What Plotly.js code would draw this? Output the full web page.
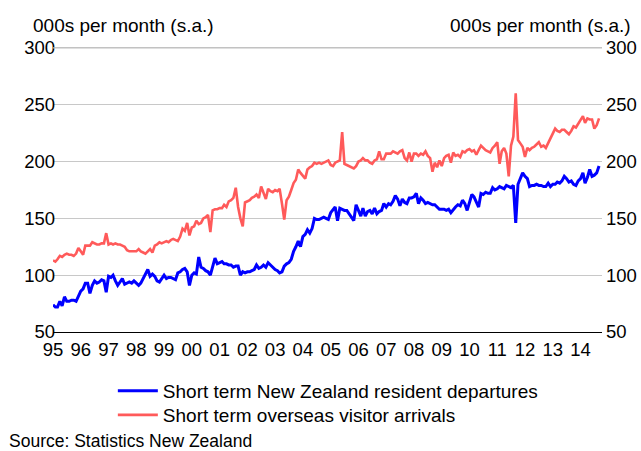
<!DOCTYPE html>
<html>
<head>
<meta charset="utf-8">
<script src="https://cdn.plot.ly/plotly-3.0.1.min.js"></script>
<style>
  html, body { margin: 0; padding: 0; background: #fff; }
  #chart { width: 641px; height: 451px; }
</style>
</head>
<body>
<div id="chart"></div>
<script>
// Monthly, seasonally adjusted, thousands; Jan 1995 .. Sep 2014
const startYear = 1995;
const departures = [
  74, 72, 72, 77, 73, 81, 77, 77, 78, 78, 77, 81,          // 1995
  86, 88, 93, 93, 84, 91, 95, 93, 94, 96, 95, 85,          // 1996
  99, 98, 100, 95, 91, 94, 97, 92, 93, 94, 93, 95,         // 1997
  93, 91, 93, 97, 101, 105, 99, 101, 99, 95, 94, 97,       // 1998
  100, 97, 98, 98, 97, 96, 102, 103, 105, 106, 103, 91,    // 1999
  100, 102, 101, 116, 107, 106, 104, 103, 100, 108, 115, 110, // 2000
  111, 112, 110, 110, 109, 109, 107, 108, 108, 100, 103, 102, // 2001
  103, 103, 104, 105, 109, 106, 107, 109, 107, 111, 109, 107, // 2002
  105, 104, 102, 103, 108, 110, 111, 114, 121, 125, 130, 125, // 2003
  134, 136, 140, 137, 141, 150, 149, 149, 150, 151, 150, 149, // 2004
  155, 158, 160, 148, 159, 158, 157, 157, 154, 151, 148, 162, // 2005
  156, 152, 159, 152, 156, 157, 154, 159, 154, 156, 157, 163, // 2006
  160, 163, 162, 165, 170, 167, 161, 167, 164, 163, 168, 168, // 2007
  169, 172, 163, 168, 166, 163, 164, 163, 162, 162, 160, 158, // 2008
  158, 158, 157, 158, 155, 158, 160, 162, 161, 166, 163, 157, // 2009
  165, 171, 169, 164, 160, 172, 171, 173, 172, 172, 177, 175, // 2010
  176, 178, 177, 176, 179, 178, 177, 179, 146, 180, 185, 190, // 2011
  187, 185, 178, 179, 179, 180, 179, 179, 178, 178, 181, 178, // 2012
  180, 180, 182, 181, 183, 187, 185, 182, 183, 180, 179, 183, // 2013
  185, 190, 181, 186, 193, 187, 188, 190, 196                 // 2014
];
const arrivals = [
  113, 112, 114, 117, 116, 118, 119, 118, 118, 117, 119, 124, // 1995
  121, 118, 126, 126, 126, 129, 128, 127, 127, 128, 128, 137, // 1996
  127, 128, 127, 128, 127, 127, 126, 125, 122, 121, 121, 121, // 1997
  121, 123, 121, 120, 119, 121, 123, 120, 126, 127, 129, 128, // 1998
  129, 130, 129, 131, 132, 131, 130, 134, 141, 139, 146, 135, // 1999
  142, 143, 148, 145, 146, 150, 151, 153, 138, 157, 158, 158, // 2000
  159, 159, 162, 160, 165, 166, 168, 177, 160, 150, 143, 164, // 2001
  165, 166, 168, 169, 171, 168, 178, 172, 167, 176, 174, 173, // 2002
  175, 174, 176, 163, 149, 166, 169, 175, 181, 184, 193, 190, // 2003
  187, 185, 193, 195, 196, 199, 198, 199, 198, 199, 200, 201, // 2004
  197, 196, 199, 200, 201, 226, 198, 197, 196, 195, 194, 196, // 2005
  200, 201, 203, 201, 201, 199, 198, 201, 202, 209, 202, 202, // 2006
  207, 207, 207, 209, 208, 207, 209, 210, 203, 201, 208, 200, // 2007
  207, 207, 205, 207, 206, 209, 205, 203, 191, 199, 195, 201, // 2008
  196, 203, 205, 206, 199, 208, 205, 206, 204, 209, 208, 210, // 2009
  211, 209, 210, 206, 210, 214, 212, 210, 209, 208, 212, 214, // 2010
  217, 198, 209, 212, 207, 187, 214, 222, 260, 219, 216, 213, // 2011
  204, 212, 210, 212, 213, 215, 217, 213, 214, 212, 216, 220, // 2012
  224, 229, 227, 226, 228, 228, 226, 224, 227, 231, 230, 233, // 2013
  236, 240, 234, 238, 237, 237, 229, 232, 238                 // 2014
];
const seriesNames = ["Short term New Zealand resident departures", "Short term overseas visitor arrivals"];
const seriesColors = ["#0000ff", "#ff5a5a"];
const axisTitle = "000s per month (s.a.)";
const sourceText = "Source: Statistics New Zealand";
const yTicks = [50, 100, 150, 200, 250, 300];

function monthDates(n) {
  const out = [];
  for (let i = 0; i < n; i++) {
    const y = startYear + Math.floor(i / 12);
    const m = (i % 12) + 1;
    out.push(y + "-" + (m < 10 ? "0" + m : m) + "-01");
  }
  return out;
}

const fam = "Liberation Sans, Arial, sans-serif";
const tickFont = { family: fam, size: 18.5, color: "#000" };
const bigFont = { family: fam, size: 19, color: "#000" };
const srcFont = { family: fam, size: 17.5, color: "#000" };

const traces = [
  { x: monthDates(departures.length), y: departures, type: "scatter", mode: "lines",
    name: seriesNames[0], line: { color: seriesColors[0], width: 3 }, yaxis: "y", legend: "legend" },
  { x: monthDates(arrivals.length), y: arrivals, type: "scatter", mode: "lines",
    name: seriesNames[1], line: { color: seriesColors[1], width: 2.6 }, yaxis: "y2", legend: "legend2" }
];

const legendBase = { xanchor: "left", yanchor: "top", font: bigFont,
  bgcolor: "rgba(0,0,0,0)", itemwidth: 40 };

const yRange = [50, 301.7];

const layout = {
  width: 641, height: 451,
  margin: { l: 53, r: 39, t: 46, b: 119 },
  paper_bgcolor: "#fff", plot_bgcolor: "#fff",
  font: bigFont,
  showlegend: true,
  legend: Object.assign({ x: 0.109, y: -0.1399 }, legendBase),
  legend2: Object.assign({ x: 0.109, y: -0.2238 }, legendBase),
  xaxis: {
    type: "date",
    range: ["1995-01-01", "2014-10-10"],
    tick0: "1995-01-01", dtick: "M12", tickformat: "%y",
    showgrid: false, zeroline: false,
    showline: true, linecolor: "#000", linewidth: 1,
    ticks: "", tickfont: tickFont, fixedrange: true, ticklabelstandoff: 1
  },
  yaxis: {
    range: yRange, tickvals: yTicks, ticks: "",
    showgrid: true, gridcolor: "#c8c8c8", gridwidth: 1,
    zeroline: false, showline: false, tickfont: tickFont, fixedrange: true,
    ticklabelstandoff: -3
  },
  yaxis2: {
    range: yRange, tickvals: yTicks, ticks: "",
    overlaying: "y", side: "right",
    showgrid: false, zeroline: false, showline: false, tickfont: tickFont, fixedrange: true,
    ticklabelstandoff: 3
  },
  shapes: [
    // reinforce the top gridline so it is clearly drawn
    { type: "line", xref: "paper", yref: "y", x0: 0, x1: 1, y0: yTicks[yTicks.length - 1], y1: yTicks[yTicks.length - 1],
      line: { color: "#c0c0c0", width: 1.2 }, layer: "above" }
  ],
  annotations: [
    { text: axisTitle, xref: "paper", yref: "paper", x: -0.04, y: 1.0734,
      xanchor: "left", yanchor: "middle", showarrow: false, font: bigFont },
    { text: axisTitle, xref: "paper", yref: "paper", x: 1.0565, y: 1.0734,
      xanchor: "right", yanchor: "middle", showarrow: false, font: bigFont },
    { text: sourceText, xref: "paper", yref: "paper", x: -0.083, y: -0.3794,
      xanchor: "left", yanchor: "middle", showarrow: false, font: srcFont }
  ]
};

Plotly.newPlot("chart", traces, layout, { displayModeBar: false, staticPlot: true });
</script>
</body>
</html>
